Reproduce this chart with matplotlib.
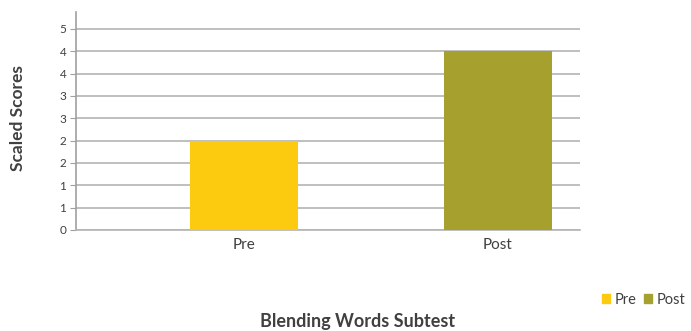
import numpy as np
import matplotlib.pyplot as plt

plt.rcParams['font.family'] = ['Lato', 'DejaVu Sans']

categories = ['Pre', 'Post']
scores = [2.0, 4.0]
colors = ['#fcca0f', '#a6a02f']
y_ticks = [0, 0.5, 1, 1.5, 2, 2.5, 3, 3.5, 4, 4.5]
y_tick_labels = ['0', '1', '1', '2', '2', '3', '3', '4', '4', '5']

fig = plt.figure(figsize=(6.91, 3.31), dpi=100)
ax = fig.add_axes([76 / 691, 1 - 230 / 331, 504 / 691, 218 / 331])

x = np.arange(len(categories))
ax.bar(x, scores, width=0.425, color=colors, zorder=3)

ax.set_xlim(-0.661, 1.323)
ax.set_ylim(0, 4.88)
ax.set_yticks(y_ticks)
ax.set_yticklabels(y_tick_labels)
ax.set_xticks(x)
ax.set_xticklabels(categories)
ax.grid(axis='y', color='#b4b4b4', linewidth=1.2, zorder=0)

for s in ['top', 'right']:
    ax.spines[s].set_visible(False)
ax.spines['bottom'].set_color('#b4b4b4')
ax.spines['bottom'].set_linewidth(1.2)
ax.spines['left'].set_color('#a0a0a0')
ax.spines['left'].set_linewidth(1.2)

ax.tick_params(axis='y', length=4, color='#a0a0a0', labelsize=8.5, labelcolor='#404040', pad=3)
ax.tick_params(axis='x', length=0, labelsize=11, labelcolor='#404040', pad=6)

fig.text(18 / 691, 1 - 118 / 331, 'Scaled Scores', rotation=90, fontsize=12.5,
         fontweight='bold', color='#404040', ha='center', va='center')
fig.text(358 / 691, 1 - 321 / 331, 'Blending Words Subtest', fontsize=13,
         fontweight='bold', color='#404040', ha='center', va='center')

handles = [plt.Rectangle((0, 0), 1, 1, color=c) for c in colors]
fig.legend(handles, categories, loc='center right', bbox_to_anchor=(1.0, 1 - 300 / 331),
           frameon=False, ncol=2, fontsize=10.5, handlelength=0.55, handleheight=0.55,
           handletextpad=0.3, columnspacing=0.5, labelcolor='#404040', borderaxespad=0.0)

fig.savefig('out.png', dpi=100)
